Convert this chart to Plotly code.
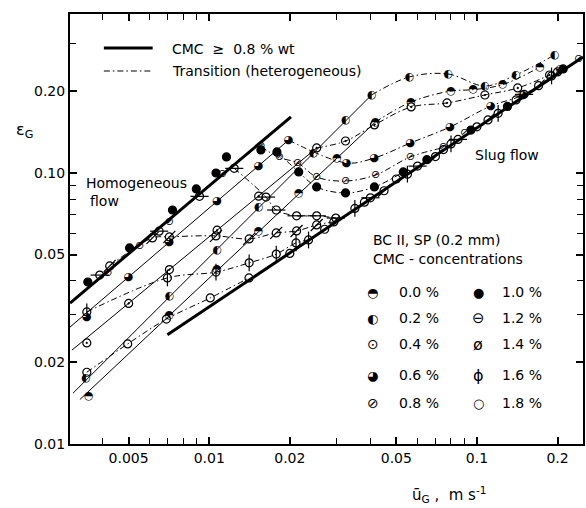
import math
import plotly.graph_objects as go

# ---------------- data ----------------
# thick lines
homog_line_x = [0.00302, 0.0202]      # CMC >= 0.8 % wt (homogeneous)
homog_line_y = [0.0331, 0.161]
slug_line_x = [0.00698, 0.249]        # slug flow line
slug_line_y = [0.0253, 0.268]

# 0.0 %
c00_hx = [0.00355, 0.0071, 0.0107, 0.0153, 0.0216, 0.0300]
c00_hy = [0.0150, 0.0298, 0.0440, 0.0610, 0.0845, 0.1130]
c00_lx = [0.00329, 0.0418]
c00_ly = [0.0146, 0.1543]
c00_tx = [0.0418, 0.0568, 0.0800, 0.0970, 0.1250, 0.1720]
c00_ty = [0.1543, 0.1828, 0.2007, 0.2030, 0.2120, 0.2460]
# 0.2 %
c02_hx = [0.00346, 0.0071, 0.0107, 0.0153, 0.0245, 0.0323]
c02_hy = [0.0175, 0.0350, 0.0520, 0.0745, 0.1185, 0.1560]
c02_lx = [0.0031, 0.0404]
c02_ly = [0.0154, 0.1940]
c02_tx = [0.0404, 0.0559, 0.0780, 0.1071, 0.1396, 0.1950]
c02_ty = [0.1940, 0.2261, 0.2319, 0.2094, 0.2299, 0.2725]
# 0.4 %
c04_hx = [0.00349, 0.0050, 0.0071, 0.0107, 0.0153]
c04_hy = [0.0236, 0.0330, 0.0440, 0.0615, 0.0821]
c04_lx = [0.00307, 0.0252]
c04_ly = [0.0222, 0.1237]
c04_tx = [0.0252, 0.0323, 0.0414, 0.0568, 0.0773, 0.1071, 0.1420, 0.1868]
c04_ty = [0.1237, 0.1312, 0.1504, 0.1752, 0.1813, 0.1940, 0.2059, 0.2299]
# 0.6 %
c06_hx = [0.00349, 0.0050, 0.0071, 0.0107, 0.0153]
c06_hy = [0.0293, 0.0413, 0.0557, 0.0785, 0.1063]
c06_lx = [0.00302, 0.0198]
c06_ly = [0.0270, 0.1323]
c06_tx = [0.0198, 0.0326, 0.0414, 0.0564, 0.0793, 0.1127, 0.1483, 0.2050]
c06_ty = [0.1323, 0.1089, 0.1136, 0.1290, 0.1478, 0.1767, 0.1940, 0.2410]
# 0.8 %
c08_hx = [0.00418, 0.00549, 0.0071, 0.0112]
c08_hy = [0.0425, 0.0535, 0.0660, 0.0990]
c08_tx = [0.0156, 0.0183, 0.0214, 0.0252, 0.0323, 0.0418, 0.0564, 0.0750]
c08_ty = [0.1250, 0.1140, 0.1089, 0.0966, 0.0934, 0.0983, 0.1146, 0.1240]
c08_sx = [0.090, 0.240]
c08_sy = [0.1400, 0.2620]
# 1.0 %
c10_hx = [0.00352, 0.00504, 0.00729, 0.00895, 0.0106, 0.0116, 0.0156]
c10_hy = [0.0396, 0.0529, 0.0730, 0.0873, 0.1000, 0.1146, 0.1216]
c10_tx = [0.0179, 0.0216, 0.0252, 0.0323, 0.0414, 0.0531]
c10_ty = [0.1196, 0.1009, 0.0888, 0.0844, 0.0888, 0.1009]
c10_sx = [0.065, 0.095, 0.130, 0.210]
c10_sy = [0.1120, 0.1440, 0.1760, 0.2420]
# 1.2 %
c12_hx = [0.0039, 0.0065, 0.0092]
c12_hy = [0.0420, 0.0610, 0.0820]
c12_tx = [0.0124, 0.0163, 0.0178, 0.0212, 0.0252, 0.0297]
c12_ty = [0.1040, 0.0815, 0.0730, 0.0695, 0.0695, 0.0682]
c12_sx = [0.040, 0.060, 0.085, 0.150]
c12_sy = [0.0810, 0.1060, 0.1330, 0.1950]
# 1.4 %
c14_tx = [0.00425, 0.00614, 0.0071, 0.0106, 0.0141, 0.0178, 0.0212, 0.0252, 0.0292]
c14_ty = [0.0454, 0.0576, 0.0581, 0.0586, 0.0571, 0.0601, 0.0611, 0.0643, 0.0660]
c14_sx = [0.045, 0.070, 0.110, 0.170]
c14_sy = [0.0860, 0.1150, 0.1570, 0.2100]
# 1.6 %
c16_tx = [0.00349, 0.00698, 0.0106, 0.0141, 0.0178, 0.0211, 0.0235]
c16_ty = [0.0307, 0.0410, 0.0431, 0.0466, 0.0502, 0.0552, 0.0566]
c16_sx = [0.035, 0.055, 0.080, 0.120, 0.190]
c16_sy = [0.0740, 0.0990, 0.1280, 0.1660, 0.2280]
# 1.8 %
c18_tx = [0.00349, 0.00496, 0.00692, 0.01009, 0.01408]
c18_ty = [0.0184, 0.0234, 0.0289, 0.0346, 0.0410]
c18_sx = [0.020, 0.027, 0.038, 0.050, 0.075, 0.100, 0.140, 0.200]
c18_sy = [0.0505, 0.0620, 0.0780, 0.0950, 0.1220, 0.1480, 0.1860, 0.2360]

x_tickvals = [0.005, 0.01, 0.02, 0.05, 0.1, 0.2]
x_ticktext = ["0.005", "0.01", "0.02", "0.05", "0.1", "0.2"]
x_minor = [0.004, 0.006, 0.007, 0.008, 0.009, 0.03, 0.04, 0.06, 0.07, 0.08, 0.09]
y_tickvals = [0.01, 0.02, 0.05, 0.1, 0.2]
y_ticktext = ["0.01", "0.02", "0.05", "0.10", "0.20"]
y_minor = [0.03, 0.04, 0.06, 0.07, 0.08, 0.09, 0.3]

legend_labels = ["0.0 %", "0.2 %", "0.4 %", "0.6 %", "0.8 %",
                 "1.0 %", "1.2 %", "1.4 %", "1.6 %", "1.8 %"]
legend_glyphs = ["◓", "◐", "⊙", "◕", "⊘", "●", "⊖", "ø", "ɸ", "○"]
legend_glyph_sizes = [13, 13, 14, 13, 14, 13, 15, 16, 16, 13]

# ---------------- figure ----------------
FONT = "DejaVu Sans"
DASHDOT = "6px,3px,1.5px,3px"
GS = 11
fig = go.Figure()


def line(x, y, width=1, dash=None, shape="linear"):
    fig.add_trace(go.Scatter(x=x, y=y, mode="lines", showlegend=False, hoverinfo="skip",
                             line=dict(color="black", width=width, dash=dash, shape=shape)))


def mark(x, y, symbol, size=8, lw=1.2):
    fig.add_trace(go.Scatter(x=x, y=y, mode="markers", showlegend=False,
                             marker=dict(symbol=symbol, size=size, color="black",
                                         line=dict(color="black", width=lw))))


def glyph(x, y, ch, size=GS):
    fig.add_trace(go.Scatter(x=x, y=y, mode="text", text=[ch] * len(x), showlegend=False,
                             textposition="middle center",
                             textfont=dict(family=FONT, size=size, color="black")))


# thick lines
line(homog_line_x, homog_line_y, width=3)
line(slug_line_x, slug_line_y, width=3)

# thin homogeneous lines
for lx, ly in [(c00_lx, c00_ly), (c02_lx, c02_ly), (c04_lx, c04_ly), (c06_lx, c06_ly)]:
    line(lx, ly, width=1)

# transition curves (dash-dot)
for tx, ty in [(c00_tx, c00_ty), (c02_tx, c02_ty), (c04_tx, c04_ty), (c06_tx, c06_ty),
               (c08_tx, c08_ty), (c10_tx, c10_ty), (c12_tx, c12_ty), (c14_tx, c14_ty),
               (c16_tx, c16_ty), (c18_tx, c18_ty)]:
    line(tx, ty, dash=DASHDOT, shape="spline")

# markers
glyph(c00_hx + c00_tx, c00_hy + c00_ty, "◓")
glyph(c02_hx + c02_tx, c02_hy + c02_ty, "◐")
mark(c04_hx + c04_tx, c04_hy + c04_ty, "circle-open-dot", size=8)
glyph(c06_hx + c06_tx, c06_hy + c06_ty, "◕")
glyph(c08_hx + c08_tx + c08_sx, c08_hy + c08_ty + c08_sy, "⊘")
mark(c10_hx + c10_tx + c10_sx, c10_hy + c10_ty + c10_sy, "circle", size=8)
x12 = c12_hx + c12_tx + c12_sx
y12 = c12_hy + c12_ty + c12_sy
mark(x12, y12, "circle-open", size=8)
mark(x12, y12, "line-ew", size=13)
x14 = c14_tx + c14_sx
y14 = c14_ty + c14_sy
mark(x14, y14, "circle-open", size=8)
mark(x14, y14, "line-ne", size=12)
x16 = c16_tx + c16_sx
y16 = c16_ty + c16_sy
mark(x16, y16, "circle-open", size=8)
mark(x16, y16, "line-ns", size=12)
mark(c18_tx + c18_sx, c18_ty + c18_sy, "circle-open", size=8)

# ---------------- layout ----------------
W, H = 586, 508
L, R, T, B = 70, 1, 14, 64


def px(xp):
    return (xp - L) / (W - L - R)


def py(yp):
    return (H - B - yp) / (H - T - B)


ann = []


def text(xp, yp, s, size=14, xanchor="left"):
    ann.append(dict(x=px(xp), y=py(yp), xref="paper", yref="paper", text=s, showarrow=False,
                    xanchor=xanchor, yanchor="middle", font=dict(family=FONT, size=size, color="black")))


text(170, 49, "CMC  ≥  0.8 % wt")
text(170, 71, "Transition (heterogeneous)")
text(84, 183, "Homogeneous")
text(88, 201, "flow")
text(475, 155, "Slug flow")
text(372, 240, "BC II, SP (0.2 mm)")
text(372, 259, "CMC - concentrations")
rows = [292, 318, 344, 375, 403]
for i, (lab, g, gsz) in enumerate(zip(legend_labels, legend_glyphs, legend_glyph_sizes)):
    col = i // 5
    r = rows[i % 5]
    gx = 374 if col == 0 else 480
    tx = 398 if col == 0 else 502
    text(gx, r, g, size=gsz, xanchor="center")
    text(tx, r, lab, size=14)
text(450, 494, "ū<sub>G</sub> ,  m s<sup>-1</sup>", size=15, xanchor="center")
text(24, 130, "ε<sub>G</sub>", size=16, xanchor="center")

shapes = [
    dict(type="line", xref="paper", yref="paper", x0=px(104), x1=px(153), y0=py(48), y1=py(48),
         line=dict(color="black", width=3)),
    dict(type="line", xref="paper", yref="paper", x0=px(104), x1=px(153), y0=py(71), y1=py(71),
         line=dict(color="black", width=1, dash=DASHDOT)),
]

axis_common = dict(type="log", showgrid=False, zeroline=False, ticks="inside", ticklen=7,
                   tickwidth=1.5, tickcolor="black", showline=True, linewidth=2,
                   linecolor="black", mirror="ticks",
                   tickfont=dict(family=FONT, size=14, color="black"))

fig.update_layout(
    width=W, height=H, margin=dict(l=L, r=R, t=T, b=B),
    paper_bgcolor="white", plot_bgcolor="white", showlegend=False,
    annotations=ann, shapes=shapes,
    xaxis=dict(axis_common, range=[math.log10(0.00302), math.log10(0.249)],
               tickmode="array", tickvals=x_tickvals, ticktext=x_ticktext,
               minor=dict(tickvals=x_minor, ticks="inside", ticklen=6, tickcolor="black",
                          tickwidth=1.2, showgrid=False)),
    yaxis=dict(axis_common, range=[-2, math.log10(0.386)],
               tickmode="array", tickvals=y_tickvals, ticktext=y_ticktext,
               minor=dict(tickvals=y_minor, ticks="inside", ticklen=6, tickcolor="black",
                          tickwidth=1.2, showgrid=False)),
)

fig.write_html("out.html")
